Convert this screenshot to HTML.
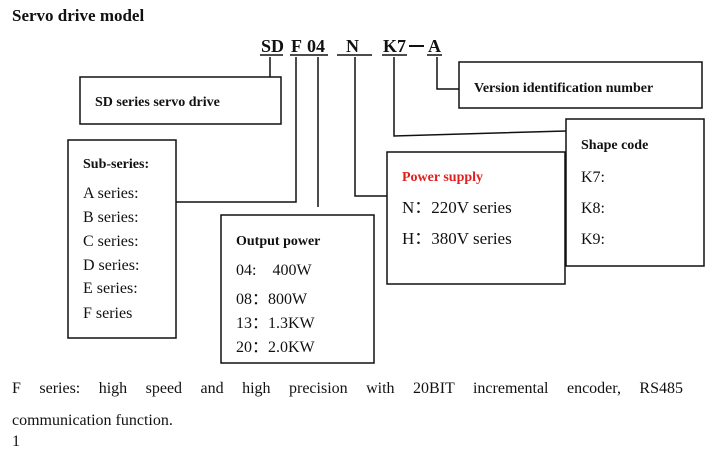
<!DOCTYPE html>
<html><head><meta charset="utf-8"><style>
body{margin:0;background:#fff;width:716px;height:470px;overflow:hidden;position:relative}
svg{display:block}
text{font-family:"Liberation Serif",serif;fill:#111}
.b{font-weight:bold;font-size:14px}
.n{font-size:16px}
.j{position:absolute;left:12px;top:379px;width:671px;font-family:"Liberation Serif",serif;font-size:16px;color:#111;text-align:justify;text-align-last:justify;white-space:nowrap;line-height:20px}
</style></head><body>
<svg width="716" height="470" viewBox="0 0 716 470">
<text x="12" y="21" style="font-weight:bold;font-size:17px">Servo drive model</text>
<g style="font-weight:bold;font-size:18px">
<text x="261" y="52">SD</text><text x="291" y="52">F</text><text x="307" y="52">04</text>
<text x="346" y="52">N</text><text x="383" y="52">K7</text><text x="428" y="52">A</text>
</g>
<g stroke="#111" stroke-width="1.5" fill="none">
<line x1="260" y1="55" x2="283" y2="55"/><line x1="290" y1="55" x2="328" y2="55"/>
<line x1="337" y1="55" x2="372" y2="55"/><line x1="382" y1="55" x2="407" y2="55"/>
<line x1="427" y1="55" x2="442" y2="55"/><line x1="409" y1="46" x2="424" y2="46" stroke-width="2"/>
<polyline points="270,57 270,77"/>
<polyline points="296,57 296,202 176,202"/>
<polyline points="318,57 318,207"/>
<polyline points="355,57 355,196 387,196"/>
<polyline points="394,57 394,136 566,131"/>
<polyline points="437,57 437,89 459,89"/>
<rect x="80" y="77" width="201" height="47"/>
<rect x="459" y="62" width="243" height="46"/>
<rect x="566" y="119" width="138" height="147"/>
<rect x="387" y="152" width="178" height="132"/>
<rect x="68" y="140" width="108" height="198"/>
<rect x="221" y="215" width="153" height="148"/>
</g>
<text class="b" x="95" y="106">SD series servo drive</text>
<text class="b" x="474" y="92">Version identification number</text>
<text class="b" x="581" y="149">Shape code</text>
<text class="n" x="581" y="182">K7:</text><text class="n" x="581" y="213">K8:</text><text class="n" x="581" y="244">K9:</text>
<text class="b" x="402" y="181" style="fill:#e02020">Power supply</text>
<text class="n" x="402" y="213" style="font-size:17px">N：220V series</text>
<text class="n" x="402" y="244" style="font-size:17px">H：380V series</text>
<text class="b" x="83" y="168">Sub-series:</text>
<text class="n" x="83" y="198">A series:</text><text class="n" x="83" y="222">B series:</text>
<text class="n" x="83" y="246">C series:</text><text class="n" x="83" y="270">D series:</text>
<text class="n" x="83" y="293">E series:</text><text class="n" x="83" y="318">F series</text>
<text class="b" x="236" y="245">Output power</text>
<text class="n" x="236" y="275">04:　400W</text><text class="n" x="236" y="304">08：800W</text>
<text class="n" x="236" y="328">13：1.3KW</text><text class="n" x="236" y="352">20：2.0KW</text>
<text class="n" x="12" y="425">communication function.</text>
<text class="n" x="12" y="446">1</text>
</svg>
<div class="j">F series: high speed and high precision with 20BIT incremental encoder, RS485</div>
</body></html>
